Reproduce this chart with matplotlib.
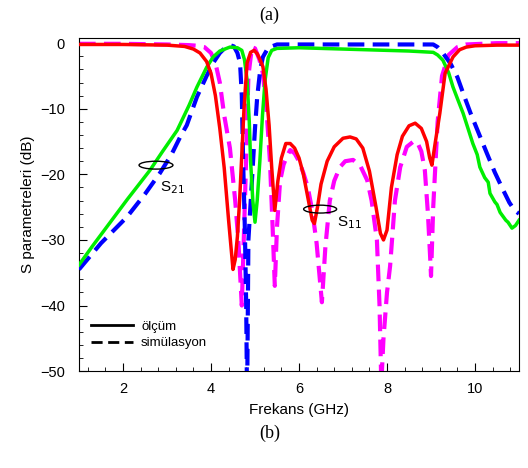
import matplotlib
matplotlib.use("Agg")
import matplotlib.pyplot as plt
from matplotlib.lines import Line2D
from matplotlib.patches import Ellipse
from matplotlib.ticker import MultipleLocator

plt.rcParams['font.family'] = ['Liberation Sans', 'DejaVu Sans']

# Measured S11 (red, solid)
f_s11_meas = [1.0, 2.0, 3.0, 3.4, 3.6, 3.75, 3.9, 4.0, 4.1, 4.2, 4.3, 4.4, 4.5, 4.55, 4.6, 4.65,
              4.7, 4.75, 4.82, 4.9, 4.98, 5.05, 5.12, 5.18, 5.25, 5.32, 5.38, 5.45, 5.52, 5.6,
              5.7, 5.8, 5.9, 6.0, 6.1, 6.2, 6.3, 6.35, 6.42, 6.5, 6.64, 6.8, 7.0, 7.16, 7.3,
              7.45, 7.6, 7.75, 7.85, 7.92, 8.0, 8.1, 8.23, 8.35, 8.5, 8.64, 8.78, 8.9, 8.97,
              9.02, 9.1, 9.2, 9.32, 9.5, 9.65, 9.8, 10.0, 10.5, 11.0]
s11_meas = [-0.2, -0.2, -0.3, -0.5, -0.9, -1.5, -2.8, -4.6, -8, -13, -19, -27, -34.5, -33, -29.5, -24,
            -17, -10, -3, -1.4, -1.1, -1.6, -2.6, -3.6, -7, -12.5, -19, -25.5, -21, -17.5,
            -15.3, -15.3, -16, -17.5, -20, -23.5, -27, -27.5, -25, -21.5, -18, -15.8, -14.5, -14.3, -14.6,
            -16, -19.5, -25, -29, -30, -28.5, -22, -17, -14.2, -12.6, -12.2, -13, -15, -17.5,
            -18.6, -15, -10.7, -4.6, -2.1, -1, -0.6, -0.4, -0.3, -0.3]

# Simulated S11 (magenta, dashed)
f_s11_sim = [1.0, 2.0, 3.0, 3.5, 3.7, 3.85, 4.0, 4.1, 4.2, 4.3, 4.43, 4.55, 4.62, 4.7, 4.78, 4.85,
             4.93, 5.0, 5.1, 5.18, 5.26, 5.34, 5.4, 5.45, 5.5, 5.57, 5.65, 5.73, 5.8, 5.9, 6.0,
             6.1, 6.2, 6.3, 6.4, 6.52, 6.6, 6.7, 6.8, 6.93, 7.05, 7.23, 7.4, 7.55, 7.65, 7.77,
             7.83, 7.87, 7.92, 8.0, 8.07, 8.18, 8.3, 8.45, 8.6, 8.68, 8.78, 8.86, 8.93, 8.98,
             9.0, 9.05, 9.15, 9.25, 9.4, 9.6, 9.8, 10.5, 11.0]
s11_sim = [-0.1, -0.1, -0.2, -0.3, -0.4, -0.6, -1.5, -3, -6, -11, -16, -24, -30, -40, -22, -5,
           -0.6, -0.8, -2.5, -4.6, -10, -18, -28, -37, -28, -21, -18.5, -17.2, -16.3, -16.8, -18,
           -19.8, -22, -25.5, -30.5, -39.5, -31, -24, -21, -18.9, -18, -17.8, -18.8, -20.9, -24, -30,
           -40, -52, -45, -38, -34, -24, -18.9, -15.8, -15, -15, -16.5, -19.4, -26, -32.6,
           -35.5, -25, -12, -5, -1.8, -0.6, -0.2, 0.0, 0.0]

# Simulated S21 (blue, dashed)
f_s21_sim = [1.0, 1.5, 2.09, 2.5, 2.84, 3.1, 3.3, 3.45, 3.68, 3.9, 4.05, 4.2, 4.32, 4.43, 4.52,
             4.6, 4.66, 4.7, 4.73, 4.77, 4.8, 4.82, 4.85, 4.93, 5.0, 5.05, 5.12, 5.18, 5.3, 5.5,
             7.0, 9.05, 9.15, 9.27, 9.45, 9.6, 9.75, 9.9, 10.1, 10.27, 10.45, 10.64, 10.78, 10.9, 11.0]
s21_sim = [-34.5, -30.5, -26.5, -23, -19.8, -17, -14.3, -12.5, -8.2, -5, -3, -1.5, -0.7, -0.3, -0.5,
           -1.5, -3, -8, -18, -28.5, -40, -55, -30, -21, -13, -8.2, -4, -2.1, -0.7, -0.2,
           -0.2, -0.2, -0.6, -1.5, -3.2, -5.2, -8, -10.7, -14, -16.8, -19.7, -22.4, -24.3, -25.5, -26]

# Measured S21 (green, solid)
f_s21_meas = [1.0, 1.3, 1.7, 2.1, 2.61, 2.9, 3.23, 3.5, 3.68, 3.9, 4.05, 4.2, 4.43, 4.6, 4.7,
              4.76, 4.82, 4.87, 4.9, 4.95, 5.0, 5.05, 5.11, 5.17, 5.23, 5.3, 5.38, 5.5, 6.0,
              7.0, 8.0, 8.5, 9.05, 9.15, 9.27, 9.4, 9.5, 9.62, 9.73, 9.85, 9.95, 10.05, 10.11,
              10.22, 10.3, 10.34, 10.45, 10.5, 10.57, 10.7, 10.75, 10.84, 10.92, 11.0]
s21_meas = [-33.8, -31, -27.4, -23.8, -19.4, -16.5, -13.3, -9.5, -6.7, -3.7, -2.1, -1.2, -0.6, -0.7, -1.1,
            -2.5, -5.6, -12, -18, -24, -27.3, -24, -18, -11, -5.6, -2.2, -1.1, -0.8, -0.7,
            -0.9, -1.1, -1.2, -1.4, -1.8, -2.6, -4.5, -6.7, -8.8, -10.7, -13.2, -15.3, -17.0, -18.9,
            -20.5, -21.2, -22.9, -24.2, -24.6, -25.8, -27.0, -27.3, -28.2, -27.8, -27]

x_ticks = [2, 4, 6, 8, 10]
y_ticks = [0, -10, -20, -30, -40, -50]
legend_labels = ['ölçüm', 'simülasyon']

fig = plt.figure(figsize=(5.28, 4.68), dpi=100)
ax = fig.add_axes([0.1496, 0.207, 0.8334, 0.712])

dash = (0, (4, 2))
ax.plot(f_s21_sim, s21_sim, color='#0000ff', lw=3, linestyle=dash, zorder=3)
ax.plot(f_s11_sim, s11_sim, color='#ff00ff', lw=3, linestyle=dash, zorder=2)
ax.plot(f_s21_meas, s21_meas, color='#00ee00', lw=2.5, zorder=4)
ax.plot(f_s11_meas, s11_meas, color='#ff0000', lw=2.5, zorder=5)

ax.set_xlim(1, 11)
ax.set_ylim(-50, 0.8)
ax.set_xticks(x_ticks)
ax.set_yticks(y_ticks)
ax.xaxis.set_minor_locator(MultipleLocator(0.4))
ax.yaxis.set_minor_locator(MultipleLocator(2))
ax.tick_params(axis='both', which='both', direction='in', top=False, right=False, labelsize=10.5)
ax.tick_params(which='major', length=6)
ax.tick_params(which='minor', length=3)
ax.tick_params(axis='y', which='major', pad=10)
ax.tick_params(axis='x', which='major', pad=8)

ax.set_xlabel('Frekans (GHz)', fontsize=11, labelpad=5)
ax.set_ylabel('S parametreleri (dB)', fontsize=11, labelpad=4)

# annotations
ax.add_patch(Ellipse((2.75, -18.6), 0.77, 1.2, fill=False, ec='black', lw=1, zorder=6))
ax.text(2.84, -22, 'S$_{21}$', fontsize=11, va='center', ha='left')
ax.add_patch(Ellipse((6.48, -25.3), 0.75, 1.2, fill=False, ec='black', lw=1, zorder=6))
ax.text(6.86, -27.4, 'S$_{11}$', fontsize=11, va='center', ha='left')

handles = [Line2D([0], [0], color='black', lw=2),
           Line2D([0], [0], color='black', lw=2, linestyle=(0, (4, 2)))]
ax.legend(handles, legend_labels, loc='lower left', bbox_to_anchor=(0.0, 0.03), frameon=False,
          fontsize=9.5, handlelength=3.2, labelspacing=0.3, handletextpad=0.6)

fig.text(0.51, 0.968, '(a)', ha='center', va='center', fontsize=13, family=['Liberation Serif', 'DejaVu Serif'])
fig.text(0.51, 0.075, '(b)', ha='center', va='center', fontsize=13, family=['Liberation Serif', 'DejaVu Serif'])

fig.savefig('out.png', dpi=100)
